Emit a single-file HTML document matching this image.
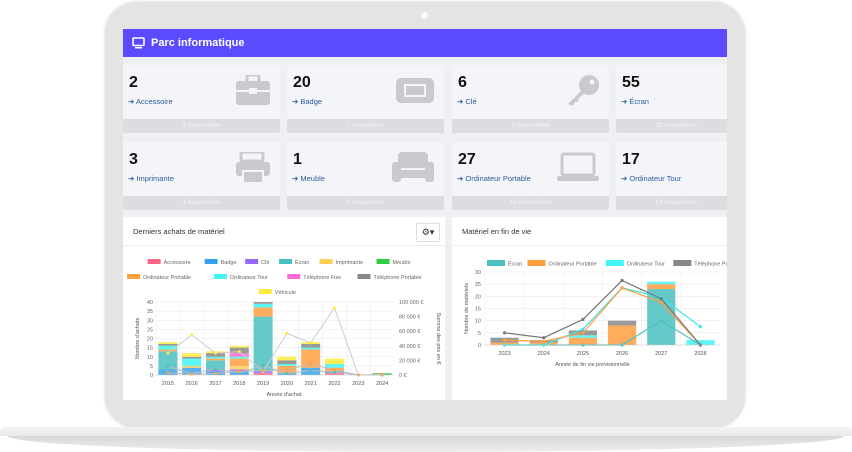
<!DOCTYPE html>
<html><head><meta charset="utf-8">
<style>
*{box-sizing:border-box;margin:0;padding:0}
body{width:852px;height:452px;overflow:hidden;background:#fff;font-family:"Liberation Sans",sans-serif;position:relative}
.abs{position:absolute}
#frame{left:105px;top:2px;width:640px;height:426px;background:#e4e4e4;border-radius:32px;box-shadow:0 0 3px #d0d0d0}
#cam{left:421px;top:12px;width:7px;height:7px;border-radius:50%;background:#fafafa}
#screen{left:123px;top:29px;width:604px;height:371px;background:#eef0f3;overflow:hidden}
#header{left:0;top:0;width:604px;height:28px;background:#5b4bff;color:#fff;font-weight:bold;font-size:11px;line-height:28px;padding-left:28px}
.card{position:absolute;background:#f4f5f8;width:157px;height:68px;border-radius:2px;overflow:hidden}
.card .num{position:absolute;left:6px;top:9px;font-size:16px;font-weight:bold;color:#111}
.card .lnk{position:absolute;left:5px;top:32px;font-size:7.5px;color:#2a5d9f}
.card .ft{position:absolute;left:0;bottom:0;width:100%;height:14px;background:#dcdde0;color:#f4f4f4;font-size:6.5px;text-align:center;line-height:14px}
.card svg{position:absolute;right:10px;top:10px}
.panel{position:absolute;background:#fff;top:188px;height:190px}
.ptitle{position:absolute;left:10px;top:10px;font-size:7.5px;color:#333}
.sep{position:absolute;left:0;top:28px;width:100%;height:1px;background:#eee}
#base1{left:0;top:427px;width:852px;height:9px;background:linear-gradient(#f3f3f3,#e9e9e9);border-radius:4px 4px 0 0}
#base2{left:8px;top:436px;width:836px;height:16px;background:linear-gradient(#d8d8d8,#eeeeee);border-radius:0 0 50% 50%/0 0 100% 100%}
svg text{font-family:"Liberation Sans",sans-serif}
</style></head><body>
<div id="frame" class="abs"></div>
<div id="cam" class="abs"></div>
<div id="base1" class="abs"></div>
<div id="base2" class="abs"></div>
<div id="screen" class="abs">
 <div id="header" class="abs">
  <svg class="abs" style="left:9px;top:8px" width="13" height="12"><rect x="1" y="1" width="11" height="7.5" rx="1" fill="none" stroke="#fff" stroke-width="1.6"/><rect x="3" y="10" width="7" height="1.5" fill="#fff"/></svg>
  Parc informatique</div>

 <div class="card" style="left:0;top:36px"><div class="num">2</div><div class="lnk">➔ Accessoire</div>
  <svg width="34" height="30"><rect x="0" y="6" width="34" height="24" rx="3" fill="#c9cacd"/><rect x="11" y="0" width="12" height="8" rx="2" fill="none" stroke="#c9cacd" stroke-width="3"/><rect x="0" y="15" width="34" height="2" fill="#f4f5f8"/><rect x="13" y="13" width="8" height="6" fill="#f4f5f8"/></svg>
  <div class="ft">0 disponibles</div></div>
 <div class="card" style="left:164px;top:36px"><div class="num">20</div><div class="lnk">➔ Badge</div>
  <svg width="38" height="30"><rect x="0" y="3" width="38" height="25" rx="5" fill="#c9cacd"/><rect x="8" y="9" width="22" height="13" fill="#f4f5f8"/><rect x="10" y="11" width="18" height="9" fill="#c9cacd"/></svg>
  <div class="ft">1 disponibles</div></div>
 <div class="card" style="left:329px;top:36px"><div class="num">6</div><div class="lnk">➔ Clé</div>
  <svg width="34" height="32"><circle cx="24" cy="10" r="10" fill="#c9cacd"/><path d="M18 14 L3 29 L8 31 L10 27 L13 27 L14 23 L21 17Z" fill="#c9cacd"/><circle cx="27" cy="7" r="2.5" fill="#f4f5f8"/></svg>
  <div class="ft">0 disponibles</div></div>
 <div class="card" style="left:493px;top:36px;width:120px"><div class="num">55</div><div class="lnk">➔ Écran</div>
  <div class="ft">32 disponibles</div></div>

 <div class="card" style="left:0;top:113px"><div class="num">3</div><div class="lnk">➔ Imprimante</div>
  <svg width="34" height="32"><rect x="5" y="0" width="22" height="9" rx="2" fill="none" stroke="#c9cacd" stroke-width="3"/><rect x="0" y="10" width="34" height="14" rx="3" fill="#c9cacd"/><rect x="7" y="19" width="20" height="12" fill="#c9cacd" stroke="#f4f5f8" stroke-width="2"/></svg>
  <div class="ft">1 disponibles</div></div>
 <div class="card" style="left:164px;top:113px"><div class="num">1</div><div class="lnk">➔ Meuble</div>
  <svg width="42" height="30"><rect x="6" y="0" width="30" height="16" rx="4" fill="#c9cacd"/><rect x="0" y="10" width="9" height="20" rx="3" fill="#c9cacd"/><rect x="33" y="10" width="9" height="20" rx="3" fill="#c9cacd"/><rect x="6" y="18" width="30" height="8" fill="#c9cacd"/></svg>
  <div class="ft">0 disponibles</div></div>
 <div class="card" style="left:329px;top:113px"><div class="num">27</div><div class="lnk">➔ Ordinateur Portable</div>
  <svg width="42" height="30"><rect x="5" y="2" width="32" height="21" rx="2" fill="none" stroke="#c9cacd" stroke-width="3"/><rect x="0" y="24" width="42" height="5" rx="2" fill="#c9cacd"/></svg>
  <div class="ft">12 disponibles</div></div>
 <div class="card" style="left:493px;top:113px;width:120px"><div class="num">17</div><div class="lnk">➔ Ordinateur Tour</div>
  <div class="ft">13 disponibles</div></div>

 <div class="panel" style="left:0;width:322px">
  <div class="ptitle">Derniers achats de matériel</div>
  <div class="abs" style="left:293px;top:6px;width:24px;height:19px;border:1px solid #ddd;border-radius:2px;font-size:9px;text-align:center;line-height:17px;color:#333">⚙▾</div>
  <div class="sep"></div>
  <svg id="c1" class="abs" style="left:0;top:0" width="322" height="190"></svg>
 </div>
 <div class="panel" style="left:329px;width:280px">
  <div class="ptitle">Matériel en fin de vie</div>
  <div class="sep"></div>
  <svg id="c2" class="abs" style="left:0;top:0" width="280" height="190"></svg>
 </div>
</div>
<script>
// ----- Chart 1 data -----
const years1 = ["2015","2016","2017","2018","2019","2020","2021","2022","2023","2024"];
const names1 = ["Accessoire","Badge","Clé","Écran","Imprimante","Meuble","Ordinateur Portable","Ordinateur Tour","Téléphone Fixe","Téléphone Portable","Véhicule"];
const colors1 = ["#ff6384","#36a2eb","#9966ff","#4bc0c0","#ffcd56","#2ecc40","#ff9f40","#3ff5f5","#ff6ad5","#888888","#ffeb3b"];
const accessoire=[0,0,0,0,1,0,0,1,0,0];
const badge=[3,4,2,2,0,1,4,1,0,0];
const cle=[0,0,1,1,1,0,0,0,0,0];
const ecran=[10,0,5,0,30,0,0,0,0,0];
const imprimante=[0,1,0,2,0,0,0,0,0,0];
const meuble=[0,0,0,0,0,0,0,0,0,1];
const portable=[1,0,1,4,5,4,10,2,0,0];
const tour=[2,4,1,1,2,1,1,2,0,0];
const fixe=[0,0,0,2,0,0,0,0,0,0];
const telport=[1,1,2,3,1,2,2,0,0,0];
const vehicule=[1,2,1,1,0,2,1,3,0,0];
const series1=[accessoire,badge,cle,ecran,imprimante,meuble,portable,tour,fixe,telport,vehicule];
const vehiculeCost=[30000,55000,30000,32000,5000,57000,44000,92000,0,0];
const ecranCost=[12000,2000,8000,3000,13000,2000,6000,4000,0,0];
const portableCost=[3000,1000,2000,5000,6000,7000,15000,7000,0,1000];
const yTicks1=[0,5,10,15,20,25,30,35,40];
const y2Ticks1=["0 €","20 000 €","40 000 €","60 000 €","80 000 €","100 000 €"];
// ----- Chart 2 data -----
const years2=["2023","2024","2025","2026","2027","2028"];
const names2=["Écran","Ordinateur Portable","Ordinateur Tour","Téléphone Portable"];
const colors2=["#4bc0c0","#ff9f40","#3ff5f5","#888888"];
const ecran2=[0,0,0,0,23,0];
const portable2=[1,1,3,8,2,0];
const tour2=[0,0,1,0,1,2];
const telport2=[2,1,2,2,0,0];
const series2=[ecran2,portable2,tour2,telport2];
const lineEcran2=[0,0,0,0,10,0];
const linePortable2=[2,1.5,5,23.5,17.5,0];
const lineTour2=[0,0,6.5,23.5,19.5,7.5];
const lineTel2=[5,3,10.5,26.5,19,0];
const yTicks2=[0,5,10,15,20,25,30];

const NS="http://www.w3.org/2000/svg";
function mk(svg,tag,attrs,txt){const e=document.createElementNS(NS,tag);for(const k in attrs)e.setAttribute(k,attrs[k]);if(txt!==undefined)e.textContent=txt;svg.appendChild(e);return e;}

(function(){
 const svg=document.getElementById('c1');
 const L=33,R=271,T=85,B=158;
 const x=i=>L+(R-L)/years1.length*(i+0.5);
 const bw=(R-L)/years1.length*0.8;
 const y=v=>B-(v/40)*(B-T);
 const y2=v=>B-(v/100000)*(B-T);
 const rows=[[0,1,2,3,4,5],[6,7,8,9],[10]];
 const rowY=[45,60,75];
 rows.forEach((r,ri)=>{
  const widths=r.map(i=>16+names1[i].length*3.3+8);
  const tot=widths.reduce((a,b)=>a+b,0);
  let cx=161-tot/2;
  r.forEach((i,k)=>{
   const g=mk(svg,'g',{});
   
   
   mk(g,'rect',{x:cx,y:rowY[ri]-3,width:13,height:5,fill:colors1[i]});
   mk(g,'text',{x:cx+16,y:rowY[ri]+2,'font-size':5.5,fill:'#666'},names1[i]);
   cx+=widths[k];
  });
 });
 yTicks1.forEach(t=>{
  mk(svg,'line',{x1:L,x2:R,y1:y(t),y2:y(t),stroke:'#e8e8e8','stroke-width':0.6});
  const tx=mk(svg,'text',{x:L-3,y:y(t)+2,'font-size':5.5,fill:'#666','text-anchor':'end'},t);
  
  
 });
 y2Ticks1.forEach((t,i)=>{
  mk(svg,'text',{x:R+5,y:y2(i*20000)+2,'font-size':5.5,fill:'#666'},t);
 });
 years1.forEach((yr,i)=>{
  mk(svg,'line',{x1:L+(R-L)/years1.length*i,x2:L+(R-L)/years1.length*i,y1:T,y2:B,stroke:'#eee','stroke-width':0.6});
  const tx=mk(svg,'text',{x:x(i),y:B+10,'font-size':5.5,fill:'#555','text-anchor':'middle'},yr);
  
  
 });
 years1.forEach((yr,i)=>{
  let acc=0;
  series1.forEach((s,si)=>{
   if(!s[i])return;
   const r=mk(svg,'rect',{x:x(i)-bw/2,y:y(acc+s[i]),width:bw,height:y(acc)-y(acc+s[i]),fill:colors1[si],'fill-opacity':0.85});
   
   
   acc+=s[i];
  });
 });
 [[vehiculeCost,'#ccc','#ffeb3b'],[ecranCost,'#bbb','#4bc0c0'],[portableCost,'#bbb','#ff9f40']].forEach(([d,lc,pc])=>{
  const p=mk(svg,'polyline',{points:d.map((v,i)=>x(i)+','+y2(v)).join(' '),fill:'none',stroke:lc,'stroke-width':1});
  
  
  d.forEach((v,i)=>mk(svg,'circle',{cx:x(i),cy:y2(v),r:1.5,fill:pc}));
 });
 mk(svg,'line',{x1:L,x2:R,y1:B,y2:B,stroke:'#ccc','stroke-width':0.6});
 mk(svg,'text',{x:161,y:B+21,'font-size':5.5,fill:'#555','text-anchor':'middle'},"Année d'achat");
 mk(svg,'text',{x:0,y:0,'font-size':5.5,fill:'#555','text-anchor':'middle',transform:`translate(16,${(T+B)/2}) rotate(-90)`},"Nombre d'achats");
 mk(svg,'text',{x:0,y:0,'font-size':5.5,fill:'#555','text-anchor':'middle',transform:`translate(314,${(T+B)/2}) rotate(90)`},"Somme des prix en €");
})();

(function(){
 const svg=document.getElementById('c2');
 const L=33,R=268,T=55,B=128;
 const n=years2.length;
 const x=i=>L+(R-L)/n*(i+0.5);
 const bw=(R-L)/n*0.72;
 const y=v=>B-(v/30)*(B-T);
 let cx=35;
 names2.forEach((nm,i)=>{
  const g=mk(svg,'g',{});
  
  
  mk(g,'rect',{x:cx,y:43,width:18,height:6,fill:colors2[i]});
  mk(g,'text',{x:cx+21,y:48.5,'font-size':5.5,fill:'#666'},nm);
  cx+=21+nm.length*2.7+6;
 });
 yTicks2.forEach(t=>{
  mk(svg,'line',{x1:L,x2:R,y1:y(t),y2:y(t),stroke:'#e8e8e8','stroke-width':0.6});
  const tx=mk(svg,'text',{x:L-4,y:y(t)+2,'font-size':5.5,fill:'#666','text-anchor':'end'},t);
  
  
 });
 years2.forEach((yr,i)=>{
  mk(svg,'line',{x1:L+(R-L)/n*i,x2:L+(R-L)/n*i,y1:T,y2:B,stroke:'#eee','stroke-width':0.6});
  const tx=mk(svg,'text',{x:x(i),y:B+10,'font-size':5.5,fill:'#555','text-anchor':'middle'},yr);
  
  
 });
 years2.forEach((yr,i)=>{
  let acc=0;
  series2.forEach((s,si)=>{
   if(!s[i])return;
   const r=mk(svg,'rect',{x:x(i)-bw/2,y:y(acc+s[i]),width:bw,height:y(acc)-y(acc+s[i]),fill:colors2[si],'fill-opacity':0.85});
   
   
   acc+=s[i];
  });
 });
 [[lineEcran2,'#4bc0c0'],[lineTour2,'#3fe5e5'],[linePortable2,'#ff9f40'],[lineTel2,'#777']].forEach(([d,c])=>{
  const p=mk(svg,'polyline',{points:d.map((v,i)=>x(i)+','+y(v)).join(' '),fill:'none',stroke:c,'stroke-width':1.2});
  
  
  d.forEach((v,i)=>mk(svg,'circle',{cx:x(i),cy:y(v),r:1.6,fill:c}));
 });
 mk(svg,'line',{x1:L,x2:R,y1:B,y2:B,stroke:'#ccc','stroke-width':0.6});
 mk(svg,'text',{x:(L+R)/2-10,y:B+21,'font-size':5.5,fill:'#555','text-anchor':'middle'},"Année de fin vie prévisionnelle");
 mk(svg,'text',{x:0,y:0,'font-size':5.5,fill:'#555','text-anchor':'middle',transform:`translate(16,${(T+B)/2}) rotate(-90)`},"Nombre de matériels");
})();
</script>
</body></html>
